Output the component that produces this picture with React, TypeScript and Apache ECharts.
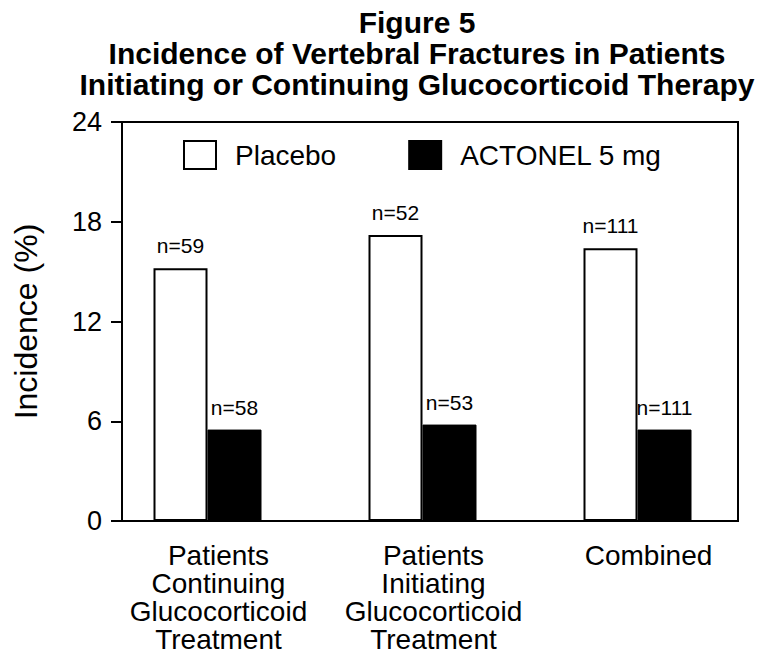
import React, { useEffect, useRef } from "react";
import * as echarts from "echarts";

const titleLines = [
  "Figure 5",
  "Incidence of Vertebral Fractures in Patients",
  "Initiating or Continuing Glucocorticoid Therapy",
];
const categories = [
  "Patients\nContinuing\nGlucocorticoid\nTreatment",
  "Patients\nInitiating\nGlucocorticoid\nTreatment",
  "Combined",
];
const seriesNames = ["Placebo", "ACTONEL 5 mg"];
const placeboValues = [15.2, 17.2, 16.4];
const actonelValues = [5.5, 5.8, 5.5];
const placeboN = [59, 52, 111];
const actonelN = [58, 53, 111];
const yMin = 0;
const yMax = 24;
const yInterval = 6;
const yAxisName = "Incidence (%)";

const FONT = "'Liberation Sans', Arial, Helvetica, sans-serif";

export default function App() {
  const ref = useRef<HTMLDivElement>(null);

  useEffect(() => {
    document.body.style.margin = "0";
    if (!ref.current) return;
    const chart = echarts.init(ref.current, undefined, { renderer: "svg" });

    const labelStyle = {
      show: true,
      position: "top" as const,
      distance: 12,
      fontFamily: FONT,
      fontSize: 21,
      color: "#000",
    };

    chart.setOption({
      animation: false,
      backgroundColor: "#ffffff",
      textStyle: { fontFamily: FONT, color: "#000" },
      title: {
        text: titleLines.join("\n"),
        left: 412,
        top: 2,
        textAlign: "center",
        textStyle: {
          fontFamily: FONT,
          fontWeight: "bold",
          fontSize: 30,
          lineHeight: 31,
          color: "#000",
        },
      },
      legend: {
        data: seriesNames,
        left: 178,
        top: 135,
        itemWidth: 32,
        itemHeight: 28,
        itemGap: 72,
        icon: "rect",
        textStyle: {
          fontFamily: FONT,
          fontSize: 28,
          color: "#000",
          padding: [0, 0, 0, 14],
        },
      },
      grid: [
        {
          left: 122,
          top: 122,
          width: 616,
          height: 399,
          show: true,
          borderColor: "#000",
          borderWidth: 2,
          backgroundColor: "transparent",
        },
        {
          left: 100,
          top: 122,
          width: 645,
          height: 399,
        },
      ],
      xAxis: [
        { gridIndex: 0, type: "value", min: 0, max: 1, show: false },
        {
          gridIndex: 1,
          type: "category",
          data: categories,
          axisLine: { show: false },
          axisTick: { show: false },
          splitLine: { show: false },
          axisLabel: {
            interval: 0,
            margin: 20,
            fontFamily: FONT,
            fontSize: 28,
            lineHeight: 28,
            color: "#000",
            padding: [0, 0, 0, 22],
          },
        },
      ],
      yAxis: [
        {
          gridIndex: 0,
          type: "value",
          min: yMin,
          max: yMax,
          interval: yInterval,
          axisLine: { show: true, lineStyle: { color: "#000", width: 2 } },
          axisTick: { show: true, length: 11, lineStyle: { color: "#000", width: 2 } },
          splitLine: { show: false },
          axisLabel: { margin: 20, fontFamily: FONT, fontSize: 27, color: "#000" },
          name: yAxisName,
          nameLocation: "middle",
          nameGap: 80,
          nameTextStyle: { fontFamily: FONT, fontSize: 32, color: "#000" },
        },
        { gridIndex: 1, type: "value", min: yMin, max: yMax, show: false },
      ],
      series: [
        {
          name: seriesNames[0],
          type: "bar",
          xAxisIndex: 1,
          yAxisIndex: 1,
          data: placeboValues,
          barWidth: 54,
          barGap: "0%",
          itemStyle: { color: "#ffffff", borderColor: "#000", borderWidth: 2 },
          label: { ...labelStyle, formatter: (p: any) => "n=" + placeboN[p.dataIndex] },
        },
        {
          name: seriesNames[1],
          type: "bar",
          xAxisIndex: 1,
          yAxisIndex: 1,
          data: actonelValues,
          barWidth: 54,
          barGap: "0%",
          itemStyle: { color: "#000000", borderColor: "#000", borderWidth: 1 },
          label: { ...labelStyle, formatter: (p: any) => "n=" + actonelN[p.dataIndex] },
        },
      ],
    });

    return () => chart.dispose();
  }, []);

  return <div ref={ref} style={{ width: 772, height: 653 }} />;
}
